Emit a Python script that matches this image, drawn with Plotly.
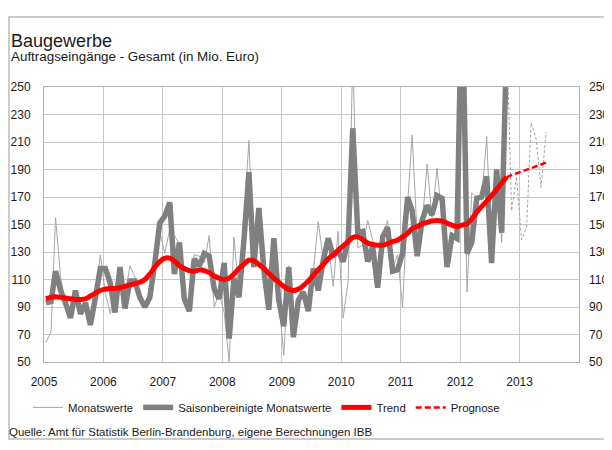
import pandas as pd
import plotly.graph_objects as go

# monthly values Jan 2005 - Oct 2012 (Mio. Euro)
monatswerte = [64, 72, 155, 112, 93, 82, 102, 85, 93, 77, 97, 128,
               100, 85, 105, 117, 97, 120, 112, 100, 90, 97, 120, 145,
               129, 147, 142, 136, 96, 88, 128, 127, 122, 142, 90, 100,
               86, 50, 141, 100, 153, 211, 127, 160, 115, 90, 138, 97,
               55, 120, 80, 98, 100, 90, 115, 152, 124, 138, 105, 145,
               82, 109, 275, 133, 135, 153, 139, 110, 138, 153, 118, 128,
               90, 165, 215, 141, 150, 194, 155, 191, 153, 125, 140, 138,
               300, 101, 173, 170, 168, 214, 125, 185, 137, 290]
saisonbereinigt = [93, 94, 116, 102, 93, 82, 102, 85, 93, 77, 97, 118,
                   118, 107, 86, 119, 89, 109, 109, 97, 90, 97, 122, 151,
                   156, 166, 114, 137, 96, 87, 125, 120, 129, 127, 103, 96,
                   122, 67, 111, 97, 138, 188, 119, 162, 117, 88, 140, 95,
                   76, 119, 68, 95, 101, 87, 118, 102, 124, 140, 127, 131,
                   123, 139, 220, 144, 145, 123, 134, 104, 141, 148, 116, 117,
                   129, 170, 160, 127, 153, 164, 157, 171, 169, 119, 142, 140,
                   330, 129, 137, 169, 170, 185, 122, 190, 144, 280]
trend = [96, 97, 97.5, 97, 96.5, 96, 95.5, 95.5, 96, 98, 100, 102,
         103, 103.5, 103.5, 104, 105, 106, 107, 108, 110, 114, 119, 123,
         125.5, 125.5, 123.5, 120, 118, 116.5, 116, 117, 116.5, 115, 112.5, 111,
         110, 111, 114, 118, 121, 124, 123.5, 121, 118, 114.5, 111, 108,
         105, 103, 102, 103, 105.5, 109, 113, 117, 121, 125, 128, 131,
         134.5, 137.5, 140.5, 141, 139, 136.5, 135.5, 135, 135, 136, 137.5, 138.5,
         141, 143.5, 147, 148.5, 150.5, 151.5, 152.5, 153, 152.5, 151, 149.5, 148.5,
         149.5, 150.5, 154, 159, 163, 167, 171, 175.5, 180, 184.5]

# forecast Oct 2012 - Jun 2013
prognose_trend = [184.5, 185.8, 187.1, 188.5, 189.8, 191.1, 192.4, 193.7, 195]
prognose_monat = [290, 160, 185, 139, 148, 224, 212, 177, 217]

jahre = ["2005", "2006", "2007", "2008", "2009", "2010", "2011", "2012", "2013"]

dates = pd.date_range("2005-01-01", periods=len(trend), freq="MS") + pd.Timedelta(days=12)
dates_prog = pd.date_range("2012-10-01", periods=len(prognose_trend), freq="MS") + pd.Timedelta(days=12)

font = "Liberation Sans, Arial, sans-serif"

fig = go.Figure()
fig.add_trace(go.Scatter(x=dates, y=monatswerte, name="Monatswerte", mode="lines",
                         line=dict(color="#a6a6a6", width=1)))
fig.add_trace(go.Scatter(x=dates, y=saisonbereinigt, name="Saisonbereinigte Monatswerte",
                         mode="lines", line=dict(color="#808080", width=5.5)))
fig.add_trace(go.Scatter(x=dates_prog, y=prognose_monat, name="Prognose Monatswerte",
                         mode="lines", showlegend=False,
                         line=dict(color="#a6a6a6", width=1, dash="3px,2px")))
fig.add_trace(go.Scatter(x=dates, y=trend, name="Trend", mode="lines",
                         line=dict(color="#ff0000", width=5, shape="spline")))
fig.add_trace(go.Scatter(x=dates_prog, y=prognose_trend, name="Prognose", mode="lines",
                         line=dict(color="#ff0000", width=2.5, dash="6px,3px")))
# invisible trace so the right-hand axis gets drawn
fig.add_trace(go.Scatter(x=dates[:1], y=trend[:1], yaxis="y2", mode="none",
                         showlegend=False, hoverinfo="skip"))

# the page body adds an 8px offset, so the figure is 8px smaller on each side
fig.update_layout(
    template="none",
    width=604, height=442,
    margin=dict(l=36, r=33, t=79, b=88),
    paper_bgcolor="white", plot_bgcolor="white",
    font=dict(family=font, size=12, color="#1a1a1a"),
    xaxis=dict(type="date", range=["2005-01-01", "2014-01-01"], automargin=False,
               tickvals=[f"{j}-01-01" for j in jahre], ticktext=jahre,
               showgrid=True, gridcolor="#c8c8c8", gridwidth=1,
               showline=True, linecolor="#b0b0b0", mirror=True,
               ticks="", ticklabelstandoff=9, zeroline=False,
               tickfont=dict(size=12)),
    yaxis=dict(range=[50, 250], tick0=50, dtick=20, automargin=False,
               showgrid=True, gridcolor="#c8c8c8",
               showline=True, linecolor="#b0b0b0", mirror=True, ticks="",
               ticklabelstandoff=10, zeroline=False, tickfont=dict(size=12)),
    yaxis2=dict(range=[50, 250], tick0=50, dtick=20, overlaying="y", side="right",
                automargin=False, showgrid=False, ticks="", ticklabelstandoff=9,
                zeroline=False, tickfont=dict(size=12)),
    legend=dict(orientation="h", x=-0.03, y=-0.165, xanchor="left", yanchor="middle",
                font=dict(size=11.4), bgcolor="rgba(0,0,0,0)", traceorder="normal"),
    showlegend=True,
)

fig.add_annotation(text="Baugewerbe", xref="paper", yref="paper", x=-0.066, y=1.168,
                   xanchor="left", yanchor="middle", showarrow=False,
                   font=dict(size=18))
fig.add_annotation(text="Auftragseingänge - Gesamt (in Mio. Euro)", xref="paper", yref="paper",
                   x=-0.066, y=1.112, xanchor="left", yanchor="middle", showarrow=False,
                   font=dict(size=13.4))
fig.add_annotation(text="Quelle: Amt für Statistik Berlin-Brandenburg, eigene Berechnungen IBB",
                   xref="paper", yref="paper", x=-0.07, y=-0.255, xanchor="left",
                   yanchor="middle", showarrow=False, font=dict(size=11.5))

# outer frame of the graphic
fig.add_shape(type="rect", xref="paper", yref="paper", x0=-0.0654, x1=1.1, y0=-0.28, y1=1.2545,
              line=dict(color="#cccccc", width=2), layer="below")

fig.write_html("out.html")
